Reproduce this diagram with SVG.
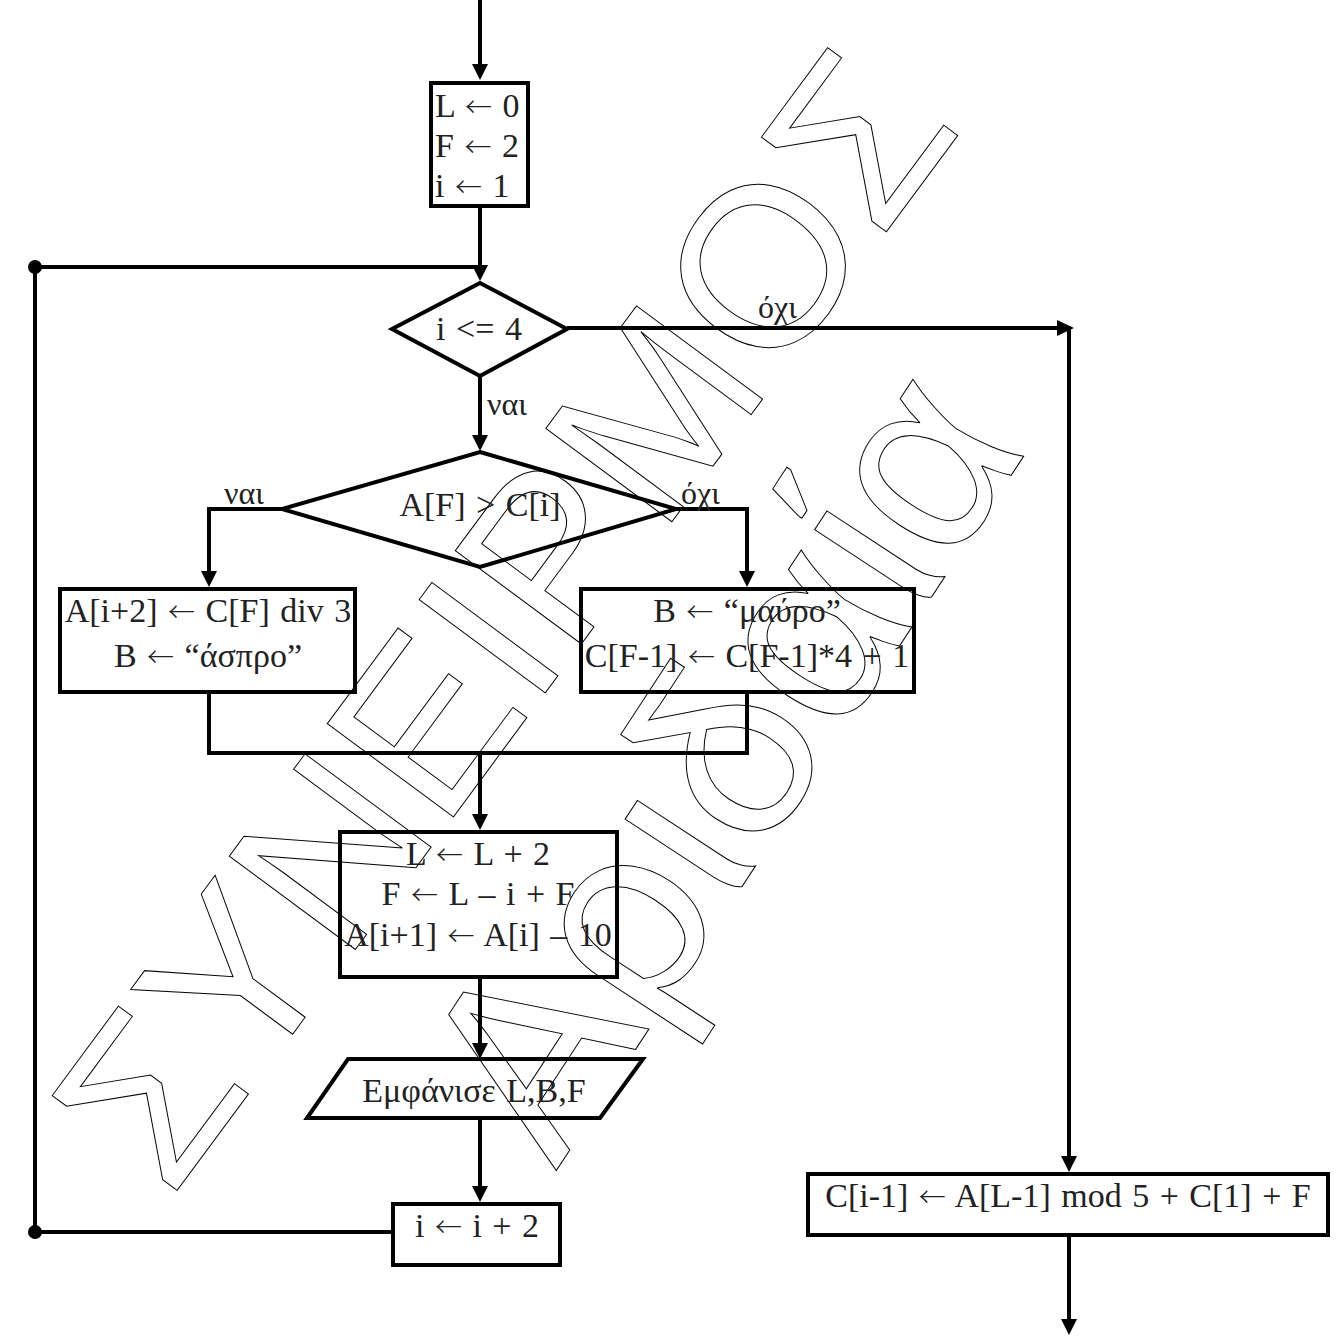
<svg xmlns="http://www.w3.org/2000/svg" width="1339" height="1337" viewBox="0 0 1339 1337">
<defs>
<style>
.bg{fill:#fff}
.wm{fill:none;stroke:#000;stroke-width:1;font-family:"Liberation Sans",Arial,sans-serif}
.shape{fill:none;stroke:#000;stroke-width:4;stroke-linejoin:miter}
.conn{fill:none;stroke:#000;stroke-width:4}
.t{font-family:"Liberation Serif","Times New Roman",serif;font-size:34px;fill:#222;word-spacing:2px}
.c{text-anchor:middle}
.ar{font-family:"Noto Sans CJK SC","DejaVu Sans",sans-serif;font-weight:300;font-size:27px}
.lbl{font-family:"Liberation Serif","Times New Roman",serif;font-size:32px;fill:#222}
.dot{fill:#000}
</style>
<marker id="ah" viewBox="0 0 16 16" refX="8" refY="8" markerWidth="16" markerHeight="16" markerUnits="userSpaceOnUse" orient="auto">
<path d="M0,0 L16,8 L0,16 z" fill="#000"/>
</marker>
</defs>
<rect class="bg" x="0" y="0" width="1339" height="1337"/>

<g id="watermark" class="wm">
<text transform="translate(170,1200) rotate(-53.5)" font-size="228">ΣΥΝΕΙΡΜΟΣ</text>
<text transform="translate(556,1171) rotate(-56.8)" font-size="255">Αριδαία</text>
</g>

<g id="connectors" class="conn">
<path d="M480,0 V72" marker-end="url(#ah)"/>
<path d="M480,208 V273" marker-end="url(#ah)"/>
<path d="M391,1232 H35 V267 H480"/>
<path d="M567,328 H1069 V1164" marker-end="url(#ah)"/>
<path d="M480,376 V443" marker-end="url(#ah)"/>
<path d="M282,509 H209 V579" marker-end="url(#ah)"/>
<path d="M676,509 H747 V579" marker-end="url(#ah)"/>
<path d="M209,694 V753 H747 V694"/>
<path d="M480,753 V822" marker-end="url(#ah)"/>
<path d="M480,979 V1051" marker-end="url(#ah)"/>
<path d="M480,1118 V1194" marker-end="url(#ah)"/>
<path d="M1069,1237 V1327" marker-end="url(#ah)"/>
<polygon points="1057,320 1074,328 1057,336" fill="#000" stroke="none"/>
<circle class="dot" cx="35" cy="267" r="7" stroke="none"/>
<circle class="dot" cx="35" cy="1232" r="7" stroke="none"/>
<text class="lbl" x="487" y="415" stroke="none">ναι</text>
<text class="lbl" x="758" y="318" stroke="none">όχι</text>
<text class="lbl" x="224" y="504" stroke="none">ναι</text>
<text class="lbl" x="681" y="504" stroke="none">όχι</text>
</g>

<g id="init">
<rect class="shape" x="431" y="83" width="97" height="123"/>
<text class="t" x="435" y="117">L <tspan class="ar">←</tspan> 0</text>
<text class="t" x="435" y="157">F <tspan class="ar">←</tspan> 2</text>
<text class="t" x="435" y="197">i <tspan class="ar">←</tspan> 1</text>
</g>

<g id="cond-loop">
<polygon class="shape" points="480,283 567,329 480,376 392,329"/>
<text class="t c" x="479" y="340">i &lt;= 4</text>
</g>

<g id="cond-af">
<polygon class="shape" points="480,452 676,509 480,567 282,509"/>
<text class="t c" x="480" y="516">A[F] &gt; C[i]</text>
</g>

<g id="box-yes">
<rect class="shape" x="60" y="589" width="295" height="103"/>
<text class="t c" x="208" y="622">A[i+2] <tspan class="ar">←</tspan> C[F] div 3</text>
<text class="t c" x="208" y="667">B <tspan class="ar">←</tspan> “άσπρο”</text>
</g>

<g id="box-no">
<rect class="shape" x="581" y="589" width="333" height="103"/>
<text class="t c" x="747" y="622">B <tspan class="ar">←</tspan> “μαύρο”</text>
<text class="t c" x="747" y="667">C[F-1] <tspan class="ar">←</tspan> C[F-1]*4 + 1</text>
</g>

<g id="box-update">
<rect class="shape" x="340" y="832" width="277" height="145"/>
<text class="t c" x="478" y="865">L <tspan class="ar">←</tspan> L + 2</text>
<text class="t c" x="478" y="905">F <tspan class="ar">←</tspan> L – i + F</text>
<text class="t c" x="478" y="946">A[i+1] <tspan class="ar">←</tspan> A[i] – 10</text>
</g>

<g id="output">
<polygon class="shape" points="348,1059 643,1059 600,1118 307,1118"/>
<text class="t c" x="474" y="1102">Εμφάνισε L,B,F</text>
</g>

<g id="increment">
<rect class="shape" x="393" y="1204" width="167" height="61"/>
<text class="t c" x="477" y="1237">i <tspan class="ar">←</tspan> i + 2</text>
</g>

<g id="final">
<rect class="shape" x="808" y="1174" width="520" height="61"/>
<text class="t c" x="1068" y="1207">C[i-1] <tspan class="ar">←</tspan> A[L-1] mod 5 + C[1] + F</text>
</g>
</svg>
